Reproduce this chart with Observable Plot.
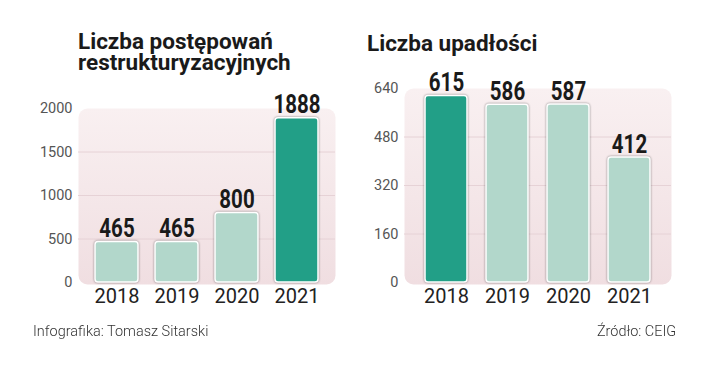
<!DOCTYPE html>
<html>
<head>
<meta charset="utf-8">
<script src="https://cdn.jsdelivr.net/npm/d3@7"></script>
<script src="https://cdn.jsdelivr.net/npm/@observablehq/plot@0.6"></script>
<style>
  html, body { margin: 0; padding: 0; background: #fff; }
  #wrap { position: relative; width: 720px; height: 369px; overflow: hidden; font-family: Roboto, sans-serif; }
  .title { position: absolute; font-family: Roboto, sans-serif; font-weight: 700; font-size: 22.5px; line-height: 21px; height: 21px; color: #1a1a1a; white-space: nowrap; }
  .foot { position: absolute; font-family: Roboto, sans-serif; font-weight: 300; font-size: 15px; line-height: 15px; color: #333; white-space: nowrap; }
  .chart { position: absolute; top: 80px; }
  .bar { filter: drop-shadow(0 0 0.8px rgba(0,0,0,0.45)); }
</style>
</head>
<body>
<div id="wrap">
  <div class="title" style="left:78px; top:31px;">Liczba postępowań</div>
  <div class="title" style="left:78px; top:52px;">restrukturyzacyjnych</div>
  <div class="title" style="left:367px; top:33px;">Liczba upadłości</div>
  <div id="left" class="chart" style="left:0px;"></div>
  <div id="right" class="chart" style="left:360px;"></div>
  <div class="foot" style="left:33px; top:324px; transform: scaleX(0.965); transform-origin: left center;">Infografika: Tomasz Sitarski</div>
  <div class="foot" style="right:44px; top:324px; transform: scaleX(0.965); transform-origin: right center;">Źródło: CEIG</div>
</div>
<script>
const years = ["2018", "2019", "2020", "2021"];
const restructuringValues = [465, 465, 800, 1888];
const bankruptcyValues = [615, 586, 587, 412];
const restructuringHighlight = "2021";
const bankruptcyHighlight = "2018";
const restructuringTicks = [0, 500, 1000, 1500, 2000];
const bankruptcyTicks = [0, 160, 320, 480, 640];

const DARK = "#229f87";
const LIGHT = "#b2d7cb";

function addGradient(svg, id) {
  const ns = "http://www.w3.org/2000/svg";
  const defs = document.createElementNS(ns, "defs");
  const lg = document.createElementNS(ns, "linearGradient");
  lg.setAttribute("id", id);
  lg.setAttribute("x1", "0"); lg.setAttribute("y1", "0");
  lg.setAttribute("x2", "0"); lg.setAttribute("y2", "1");
  [["0%", "#f9f0f1"], ["100%", "#f0dee1"]].forEach(([o, c]) => {
    const s = document.createElementNS(ns, "stop");
    s.setAttribute("offset", o); s.setAttribute("stop-color", c);
    lg.appendChild(s);
  });
  defs.appendChild(lg);
  svg.insertBefore(defs, svg.firstChild);
}

function makeChart({values, highlight, ticks, maxY, padding, marginLeft, marginRight, marginTop, gradId}) {
  const data = years.map((year, i) => ({year, value: values[i]}));
  const svg = Plot.plot({
    width: 360,
    height: 230,
    marginLeft, marginRight, marginTop,
    marginBottom: 28,
    style: {background: "transparent", overflow: "visible"},
    x: {type: "band", domain: years, padding, label: null},
    y: {domain: [0, maxY], label: null},
    marks: [
      Plot.frame({fill: `url(#${gradId})`, stroke: "none", rx: 9, insetBottom: -2}),
      Plot.gridY(ticks.filter(t => t > 0 && t < maxY), {stroke: "#e6d2d6", strokeOpacity: 1, strokeWidth: 1}),
      Plot.axisY(ticks, {tickSize: 0, tickPadding: 6, fontSize: 14.5, fill: "#555", fontFamily: "Roboto, sans-serif", tickFormat: d => String(d), label: null}),
      Plot.axisX({tickSize: 0, tickPadding: 6, fontSize: 20, fill: "#222", fontFamily: "Roboto, sans-serif", label: null}),
      Plot.barY(data, {
        x: "year", y: "value",
        fill: d => d.year === highlight ? DARK : LIGHT,
        stroke: "#fff", strokeWidth: 1.5, rx: 3,
        className: "bar"
      }),
      Plot.text(data, {
        x: "year", y: "value", text: d => String(d.value),
        dy: -5, lineAnchor: "bottom",
        fontSize: 25, fontWeight: 700, fontFamily: "Roboto, sans-serif", fill: "#1a1a1a",
        className: "vlabel"
      })
    ]
  });
  addGradient(svg, gradId);
  // condense the value labels horizontally (the reference uses a condensed bold face)
  svg.querySelectorAll(".vlabel text").forEach(t => {
    const tr = t.getAttribute("transform") || "";
    t.setAttribute("transform", tr + " scale(0.82,1)");
  });
  return svg;
}

document.getElementById("left").appendChild(makeChart({
  values: restructuringValues, highlight: restructuringHighlight, ticks: restructuringTicks,
  maxY: 2000, padding: 0.28, marginLeft: 78, marginRight: 25, marginTop: 28, gradId: "bgL"
}));
document.getElementById("right").appendChild(makeChart({
  values: bankruptcyValues, highlight: bankruptcyHighlight, ticks: bankruptcyTicks,
  maxY: 640, padding: 0.31, marginLeft: 44, marginRight: 49, marginTop: 8, gradId: "bgR"
}));
</script>
</body>
</html>
